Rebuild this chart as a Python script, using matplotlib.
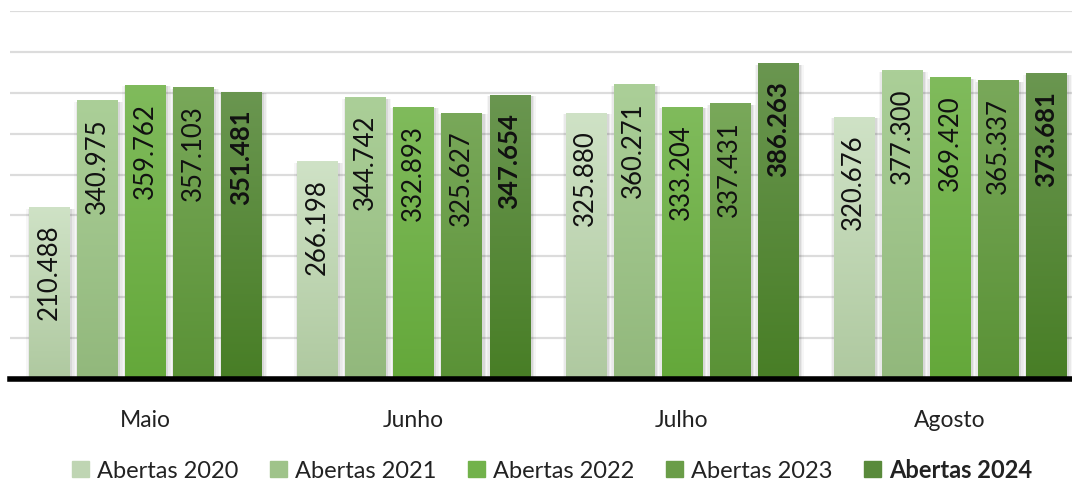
import numpy as np
import matplotlib
matplotlib.use("Agg")
import matplotlib.pyplot as plt
from matplotlib.patches import Rectangle
from matplotlib.colors import to_rgb

plt.rcParams['font.family'] = ['Lato', 'DejaVu Sans']

# data
months = ['Maio', 'Junho', 'Julho', 'Agosto']
series = ['Abertas 2020', 'Abertas 2021', 'Abertas 2022', 'Abertas 2023', 'Abertas 2024']
abertas_2020 = [210.488, 266.198, 325.880, 320.676]
abertas_2021 = [340.975, 344.742, 360.271, 377.300]
abertas_2022 = [359.762, 332.893, 333.204, 369.420]
abertas_2023 = [357.103, 325.627, 337.431, 365.337]
abertas_2024 = [351.481, 347.654, 386.263, 373.681]
values = [abertas_2020, abertas_2021, abertas_2022, abertas_2023, abertas_2024]

# gradient colours (top, bottom) per series
top_colors = ['#cfe2c6', '#abcf98', '#80bb5c', '#79a85a', '#6a9650']
bottom_colors = ['#afc9a0', '#92b87c', '#64a83a', '#5a9236', '#487e26']

fig = plt.figure(figsize=(10.72, 4.81), dpi=100)
ax = fig.add_axes([10 / 1072, (481 - 380) / 481, 1062 / 1072, 368 / 481])

step = 48 / 268
width = 40 / 268
x = np.arange(len(months))

for j, vals in enumerate(values):
    pos = x + (j - 2) * step
    # soft shadow, mostly on the sides
    for grow, a in [(9, 0.035), (6, 0.05), (3, 0.07)]:
        ax.bar(pos + 1.5 / 268, np.array(vals) - 2, width=width + grow / 268,
               color='black', alpha=a, zorder=2, linewidth=0)
    bars = ax.bar(pos, vals, width=width, color=bottom_colors[j], zorder=3, linewidth=0)
    c1 = np.array(to_rgb(top_colors[j]))
    c2 = np.array(to_rgb(bottom_colors[j]))
    t = np.linspace(0, 1, 100)[:, None]
    grad = (c1 * (1 - t) + c2 * t)[:, None, :]
    for b, v in zip(bars, vals):
        x0 = b.get_x()
        im = ax.imshow(grad, extent=[x0, x0 + b.get_width(), 0, v], aspect='auto',
                       zorder=4, interpolation='bilinear')
        im.set_clip_path(b)
        label = f'{v:.3f}'
        ax.annotate(label, (b.get_x() + b.get_width() / 2, v), xytext=(0, -17),
                    textcoords='offset pixels', rotation=90, ha='center', va='top',
                    fontsize=18.5, color='#111111', zorder=6,
                    fontweight='bold' if j == 4 else 'normal')

ax.set_xlim(-0.504, 3.455)
ax.set_ylim(0, 450)
ax.set_yticks(np.arange(50, 451, 50))
ax.yaxis.grid(True, color='#dcdcdc', linewidth=1.6, zorder=0)
ax.set_axisbelow(True)
ax.tick_params(axis='y', left=False, labelleft=False)
ax.set_xticks(x)
ax.set_xticklabels(months, fontsize=16.5, color='#222222')
ax.tick_params(axis='x', bottom=False, pad=18)
for s in ['top', 'right', 'left']:
    ax.spines[s].set_visible(False)
ax.spines['bottom'].set_color('black')
ax.spines['bottom'].set_linewidth(4)
ax.spines['bottom'].set_zorder(7)

mid_colors = [tuple((np.array(to_rgb(a)) + np.array(to_rgb(b))) / 2)
              for a, b in zip(top_colors, bottom_colors)]
handles = [Rectangle((0, 0), 1, 1, color=mid_colors[j]) for j in range(5)]
leg = fig.legend(handles, series, loc='center', bbox_to_anchor=(0.515, 0.021), ncol=5,
                 frameon=False, fontsize=17, handlelength=0.7, handleheight=0.7,
                 handletextpad=0.35, columnspacing=1.35)
for txt in leg.get_texts():
    txt.set_color('#222222')
leg.get_texts()[4].set_fontweight('bold')

fig.savefig('out.png', dpi=100)
